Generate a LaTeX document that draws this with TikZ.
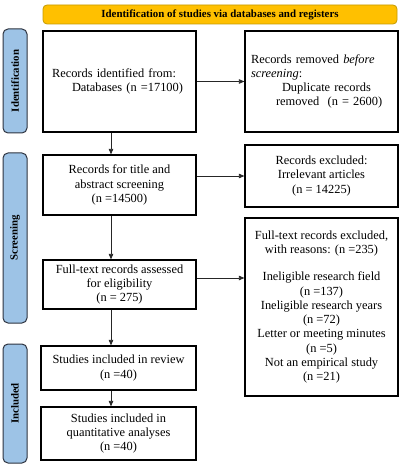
\documentclass[tikz,border=0pt]{standalone}
\usepackage{fontspec}
\setmainfont{Liberation Serif}
\usepackage{graphicx}
\usetikzlibrary{arrows.meta,calc}
\definecolor{bannerfill}{HTML}{FFC000}
\definecolor{bannerdraw}{HTML}{C49A00}
\definecolor{sidefill}{HTML}{9DC3E6}
\definecolor{sidedraw}{HTML}{2E3440}
\begin{document}
\begin{tikzpicture}[x=1pt,y=-1pt,
  box/.style={draw=black, line width=1.2pt, fill=white, inner sep=0pt,
    font=\fontsize{12.4}{14.3}\selectfont},
  sidebar/.style={draw=sidedraw, line width=1pt, fill=sidefill, rounded corners=5pt,
    minimum width=24pt, inner sep=0pt, font=\fontsize{10.8}{12}\selectfont\bfseries},
  banner/.style={draw=bannerdraw, line width=0.8pt, fill=bannerfill, rounded corners=4pt,
    inner sep=0pt, font=\fontsize{10.9}{12}\selectfont\bfseries},
  arr/.style={draw=black!85, line width=0.8pt, -{Triangle[length=5.5pt,width=4.5pt]}}
]
\useasboundingbox (0,0) rectangle (400,465);

% banner
\node[banner, minimum width=354pt, minimum height=19pt] (ban) at (220,14.5)
  {Identification of studies via databases and registers};

% side bars
\node[sidebar, minimum height=104pt] (s1) at (15,81) {\rotatebox{90}{Identification}};
\node[sidebar, minimum height=170pt] (s2) at (15,238) {\rotatebox{90}{Screening}};
\node[sidebar, minimum height=119pt] (s3) at (15,403.5) {\rotatebox{90}{Included}};

% boxes
\node[box, minimum width=153pt, minimum height=101pt, text width=135pt, align=left] (b1) at (119.5,81.5)
  {Records identified from:\\\hspace*{20pt}Databases (n =17100)};
\node[box, minimum width=153pt, minimum height=101pt, text width=141pt, align=left] (b2) at (321.5,81.5)
  {Records removed \textit{before}\\\textit{screening}:\\\hspace*{31pt}Duplicate records\\\hspace*{25pt}removed\ \ (n = 2600)};
\node[box, minimum width=153pt, minimum height=60pt, align=center] (b3) at (119.5,185)
  {Records for title and\\abstract screening\\(n =14500)};
\node[box, minimum width=153pt, minimum height=62pt, align=center] (b4) at (321.5,176)
  {Records excluded:\\Irrelevant articles\\(n = 14225)};
\node[box, minimum width=153pt, minimum height=49pt, align=center] (b5) at (119.5,284.5)
  {Full-text records assessed\\for eligibility\\(n = 275)};
\node[box, minimum width=153pt, minimum height=178pt, align=center] (b6) at (321.5,307)
  {Full-text records excluded,\\with reasons: (n =235)\\[13pt]Ineligible research field\\(n =137)\\Ineligible research years\\(n =72)\\Letter or meeting minutes\\(n =5)\\Not an empirical study\\(n =21)};
\node[box, minimum width=155pt, minimum height=44pt, align=center] (b7) at (118.5,368)
  {Studies included in review\\(n =40)};
\node[box, minimum width=155pt, minimum height=53pt, align=center] (b8) at (118.5,433.5)
  {Studies included in\\quantitative analyses\\(n =40)};

% connectors
\coordinate (ax) at (111,0);
\coordinate (y56) at (0,278);
\draw[arr] (b1.south -| ax) -- (b3.north -| ax);
\draw[arr] (b3.south -| ax) -- (b5.north -| ax);
\draw[arr] (b5.south -| ax) -- (b7.north -| ax);
\draw[arr] (b7.south -| ax) -- (b8.north -| ax);
\draw[arr] (b1.east) -- (b2.west);
\draw[arr] (b3.east |- b4.west) -- (b4.west);
\draw[arr] (b5.east |- y56) -- (b6.west |- y56);
\end{tikzpicture}
\end{document}
